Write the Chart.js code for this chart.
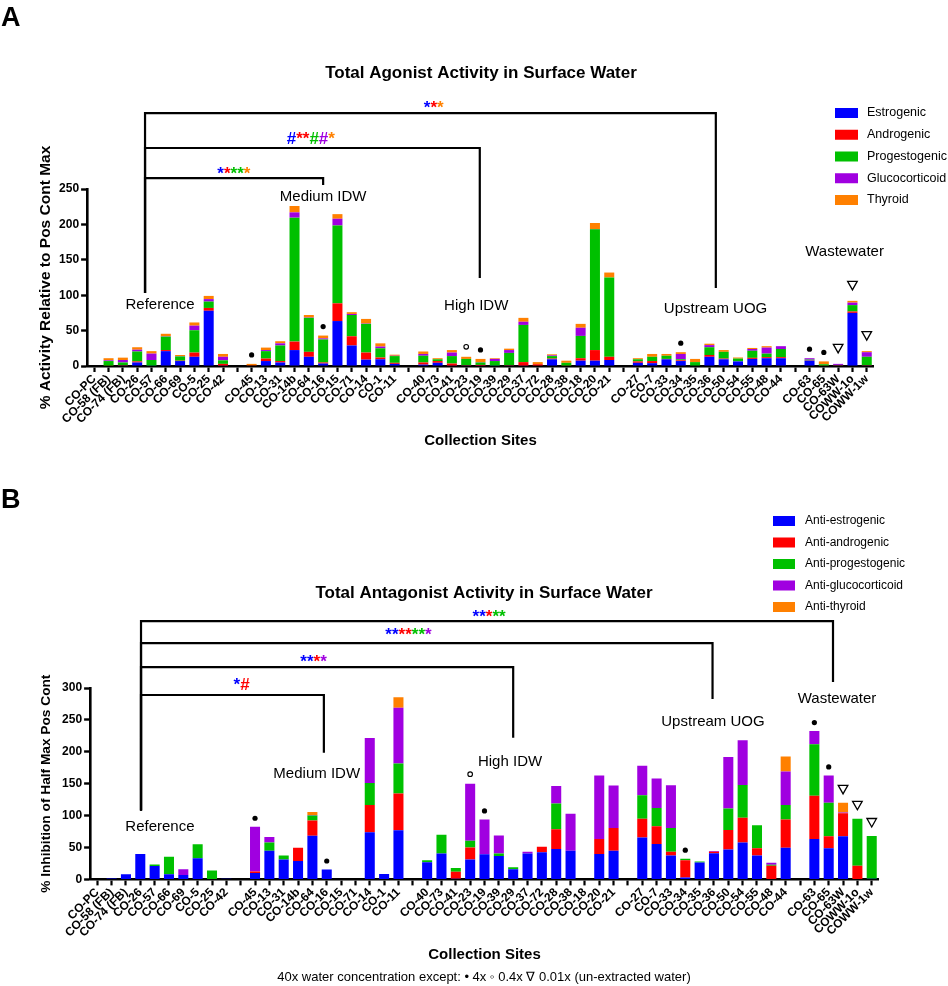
<!DOCTYPE html>
<html>
<head>
<meta charset="utf-8">
<script src="https://cdn.jsdelivr.net/npm/chart.js@4.4.1/dist/chart.umd.min.js"></script>
<style>
html,body{margin:0;padding:0;width:948px;height:986px;overflow:hidden;background:#fff;}
canvas{position:absolute;left:0;}
#chartA{top:0;}
#chartB{top:470px;}
.panel{position:absolute;left:1px;z-index:5;font:bold 27px "Liberation Sans",Arial,sans-serif;color:#000;line-height:1;}
</style>
</head>
<body>
<div class="panel" style="top:4px">A</div>
<div class="panel" style="top:486px">B</div>
<canvas id="chartA" width="962" height="460"></canvas>
<canvas id="chartB" width="968" height="516"></canvas>
<script>
// ---------------- categories (blank entries are the gaps between site groups) ----------------
const sites = ['CO-PC','CO-58 (FB)','CO-74 (FB)','CO-26','CO-57','CO-66','CO-69','CO-5','CO-25','CO-42','',
  'CO-45','CO-13','CO-31','CO-14b','CO-64','CO-16','CO-15','CO-71','CO-14','CO-1','CO-11','',
  'CO-40','CO-73','CO-41','CO-23','CO-19','CO-39','CO-29','CO-37','CO-72','CO-28','CO-38','CO-18','CO-20','CO-21','',
  'CO-27','CO-7','CO-33','CO-34','CO-35','CO-36','CO-50','CO-54','CO-55','CO-48','CO-44','',
  'CO-63','CO-65','CO-63W','COWW-1o','COWW-1w'];

// ---------------- Panel A: agonist activity (% of positive control max) ----------------
const agoEstrogenic = [0,0,0.5,5,0.5,21,7,13,78,0.5,null, 0,7,5,22.5,13,3.5,63.5,29,9,9.5,3,null, 2,4.5,0.5,0.5,0.5,0.5,0.5,0.5,0,9.5,0,7.5,7.5,8.5,null, 4.5,4,9.5,7,0,13,9.5,6.5,10,11,11,null, 7.5,0,0.5,75,0.5];
const agoAndrogenic = [0,0.5,0.5,1.5,0,1.5,0.5,6,4,2.5,null, 1,3.5,2,12,7,1.5,25,13,10,2.5,1.5,null, 3,2.5,3,0.5,1,0,0.5,5,2.5,1,0.5,3.5,15,4.5,null, 2,3,0.5,1,0,2.5,1,0,1.5,1.5,1.5,null, 0.5,0.5,0.5,2,0.5];
const agoProgestogenic = [0,6.5,4,14,8,19,6,31.5,9,5,null, 0,10.5,22,175,48,32.5,110,30,40.5,13,9.5,null, 9.5,2.5,10.5,9,3.5,6.5,17.5,52.5,0,3.5,4,31.5,170.5,112,null, 3,6,4.5,1.5,5.5,11,9.5,4,10,5,11.5,null, 1,2,0.5,9,12];
const agoGlucocorticoid = [0,1,3.5,2.5,9,0.5,0.5,6.5,3.5,5,null, 0,1.5,3,7.5,0.5,1.5,9.5,1.5,0.5,2.5,0.5,null, 2.5,0,5,0,0.5,3,4,4.5,0,1,0,11.5,0.5,0,null, 0,0,0,7.5,0,3,0,0,2.5,8.5,4,null, 2,0,1.5,3.5,6.5];
const agoThyroid = [0,3,3.3,3.5,3.5,3.5,1.5,4.5,4.5,4,null, 2,3.5,3,9,3.5,4,6.5,2.5,6.5,4.5,1.5,null, 3.5,1.5,3.5,3,4.5,1,2,5.5,3,1.5,3,5.5,8.5,7,null, 1.5,4,2.5,2.5,4.5,2,2.5,1.5,1.5,2,0,null, 0,4,0,2.5,1.5];

// ---------------- Panel B: antagonist activity (% inhibition of half max pos cont) ----------------
const antEstrogenic = [0,1.5,8,40,21,8,7,33,0,1,null, 10,45,31,29,68.5,15.5,0,0,74,8.3,77,null, 27,40.5,1,31,39.5,36.5,16,40.5,42.5,47.5,45,0,40,45,null, 65.5,55.5,37.5,3,26.5,41,47,58,37.5,0,49.5,null, 63.5,49,67.5,0,1];
const antAndrogenic = [0,0,0,0,0,0,0,0,0,0,null, 2.5,0,0,20.5,24,0,0,0,42.5,0,57.5,null, 0,0,11,19,0,0,0,0,8.5,31,0,0,23.5,35.5,null, 29.5,28,6,27,0,2.5,30.5,38.5,11.5,21.5,44.5,null, 67.5,18.5,36,21.5,0];
const antProgestogenic = [0,0,0,0,2.5,27.5,0,22,14,0,null, 0,13,6.5,0,7.5,0,0,0,34.5,0,47,null, 3,29.5,6,10.5,0,4,3,0,0,40.5,0,0,0,0,null, 37,28.5,37,2.5,1.5,0,33.5,51.5,36,1.5,22.5,null, 81,52.5,0,73.5,67];
const antGlucocorticoid = [0,0,0,0,0,0,9,0,0,0,null, 70,8.5,0,0,1,0,0,0,70.5,0,87.5,null, 0,0,0,89.5,54.5,28.5,0,3,0,27.5,58,0,99.5,66.5,null, 46,46,67,0,0,1,81,70,0,3,52.5,null, 20.5,43,1.5,0,0];
const antThyroid = [0,0,0,0,0,0,0,0,0,0,null, 0,0,0,0,4.5,0,0,0,0,0,16.5,null, 0,0,0,0,0,0,0,0,0,0,0,0,0,0,null, 0,0,0,0,0,0,0,0,0,0,23.5,null, 0,0,15,0,0];

// ---------------- y tick labels ----------------
const agoTicks = [0,50,100,150,200,250];
const antTicks = [0,50,100,150,200,250,300];

// ---------------- concentration exceptions (symbols above bars) ----------------
const dotSites = ['CO-45','CO-16','CO-19','CO-34','CO-63','CO-65'];      // 4x
const circleSites = ['CO-23'];                                          // 0.4x
const triangleSites = ['CO-63W','COWW-1o','COWW-1w'];                   // 0.01x

const agoLabels = ['Estrogenic','Androgenic','Progestogenic','Glucocorticoid','Thyroid'];
const antLabels = ['Anti-estrogenic','Anti-androgenic','Anti-progestogenic','Anti-glucocorticoid','Anti-thyroid'];
const seriesColors = ['#0000FF','#FF0000','#00C000','#A000E0','#FF8000'];
const C = {b:'#0000FF', r:'#FF0000', g:'#00C000', p:'#A000E0', o:'#FF8000'};

Chart.defaults.font.family = "'Liberation Sans', Arial, Helvetica, sans-serif";
Chart.defaults.color = '#000';

const notesPlugin = {
  id: 'siteNotes',
  afterDraw(chart, args, opts) {
    const ctx = chart.ctx, xs = chart.scales.x, ys = chart.scales.y;
    const ff = Chart.defaults.font.family;
    ctx.save();
    // brackets
    ctx.strokeStyle = '#000'; ctx.lineWidth = 2.2; ctx.lineJoin = 'miter';
    opts.brackets.forEach(b => {
      const xl = xs.getPixelForValue(b.left), xr = xs.getPixelForValue(b.right);
      const yt = ys.getPixelForValue(b.top);
      ctx.beginPath();
      ctx.moveTo(xl, ys.getPixelForValue(b.leftEnd));
      ctx.lineTo(xl, yt); ctx.lineTo(xr, yt);
      ctx.lineTo(xr, ys.getPixelForValue(b.rightEnd));
      ctx.stroke();
    });
    // significance symbols
    ctx.font = 'bold 17px ' + ff; ctx.textBaseline = 'alphabetic'; ctx.textAlign = 'left';
    opts.stars.forEach(s => {
      const parts = s.text.split('').map((ch, i) => [ch, C[s.colors[i]]]);
      const w = parts.reduce((a, p) => a + ctx.measureText(p[0]).width, 0);
      let x = xs.getPixelForValue(s.x) - w / 2;
      const y = ys.getPixelForValue(s.y);
      parts.forEach(p => { ctx.fillStyle = p[1]; ctx.fillText(p[0], x, y); x += ctx.measureText(p[0]).width; });
    });
    // group labels
    ctx.font = '15px ' + ff; ctx.fillStyle = '#000'; ctx.textAlign = 'center'; ctx.textBaseline = 'middle';
    opts.groups.forEach(g => ctx.fillText(g.text, xs.getPixelForValue(g.x), ys.getPixelForValue(g.y)));
    // concentration markers
    const ds = chart.data.datasets;
    chart.data.labels.forEach((lab, i) => {
      let kind = null;
      if (dotSites.includes(lab)) kind = 'dot';
      else if (circleSites.includes(lab)) kind = 'circle';
      else if (triangleSites.includes(lab)) kind = 'tri';
      if (!kind) return;
      const total = ds.reduce((a, d) => a + (d.data[i] || 0), 0);
      const x = xs.getPixelForValue(i);
      const top = ys.getPixelForValue(total);
      ctx.fillStyle = '#000'; ctx.strokeStyle = '#000';
      if (kind === 'dot') { ctx.beginPath(); ctx.arc(x, top - opts.dotOffset, 2.6, 0, Math.PI * 2); ctx.fill(); }
      else if (kind === 'circle') { ctx.lineWidth = 1.1; ctx.beginPath(); ctx.arc(x, top - opts.dotOffset - 1, 2.3, 0, Math.PI * 2); ctx.stroke(); }
      else { const yc = top - opts.triOffset; ctx.lineWidth = 1.3; ctx.beginPath(); ctx.moveTo(x - 4.8, yc - 4); ctx.lineTo(x + 4.8, yc - 4); ctx.lineTo(x, yc + 4.5); ctx.closePath(); ctx.stroke(); }
    });
    // legend
    const L = opts.legend;
    ctx.font = L.size + 'px ' + ff; ctx.textAlign = 'left'; ctx.textBaseline = 'middle';
    ds.forEach((d, i) => {
      const yc = L.y + i * L.dy;
      ctx.fillStyle = d.backgroundColor; ctx.fillRect(L.x, yc - L.h / 2, L.w, L.h);
      ctx.fillStyle = '#000'; ctx.fillText(d.label, L.textX, yc);
    });
    ctx.restore();
  }
};

function buildChart(id, cfg) {
  const datasets = cfg.series.map((data, i) => ({
    label: cfg.labels[i], data, backgroundColor: seriesColors[i], borderWidth: 0,
    barPercentage: 0.7, categoryPercentage: 1.0, yAxisID: 'y'
  }));
  return new Chart(document.getElementById(id), {
    type: 'bar',
    data: { labels: sites, datasets },
    options: {
      responsive: false, animation: false, devicePixelRatio: 1,
      layout: { padding: 0 },
      plugins: {
        legend: { display: false }, tooltip: { enabled: false },
        title: { display: true, text: cfg.title, color: '#000', font: { size: 17, weight: 'bold' },
                 padding: { top: cfg.titlePad[0], bottom: cfg.titlePad[1] } },
        subtitle: cfg.footnote ? { display: true, position: 'bottom', text: cfg.footnote, color: '#000',
                 font: { size: 13, weight: 'normal' }, padding: { top: 0, bottom: 0.4 } } : { display: false },
        siteNotes: cfg.notes
      },
      scales: {
        x: {
          stacked: true, offset: true,
          grid: { display: true, offset: false, drawOnChartArea: false, drawTicks: true, tickLength: 6, tickWidth: 2.2, tickColor: '#000' },
          border: { display: true, color: '#000', width: 2.6 },
          ticks: { autoSkip: false, maxRotation: 45, minRotation: 45, padding: 0, color: '#000', font: { size: 12, weight: 'bold' } },
          title: { display: true, text: 'Collection Sites', color: '#000', font: { size: 15, weight: 'bold' }, padding: { top: 0, bottom: cfg.xTitlePad } },
          afterFit(s) { s.height = cfg.xAxisHeight; }
        },
        y: {
          stacked: true, min: 0, max: cfg.ticks[cfg.ticks.length - 1],
          afterBuildTicks(s) { s.ticks = cfg.ticks.map(v => ({ value: v })); },
          grid: { drawOnChartArea: false, drawTicks: true, tickLength: 6, tickWidth: 2.4, tickColor: '#000' },
          border: { display: true, color: '#000', width: 2.6 },
          ticks: { padding: 2, color: '#000', font: { size: 12, weight: 'bold' } },
          title: { display: true, text: cfg.yTitle, color: '#000', font: { size: cfg.yTitleSize, weight: 'bold' }, padding: { top: cfg.yTitlePad, bottom: 0 } },
          afterFit(s) { s.width = cfg.yAxisWidth; }
        },
        y2: {
          type: 'linear', position: 'right', display: true,
          grid: { display: false }, border: { display: false }, ticks: { display: false },
          afterFit(s) { s.width = cfg.rightWidth; }
        }
      }
    },
    plugins: [notesPlugin]
  });
}

buildChart('chartA', {
  title: 'Total Agonist Activity in Surface Water',
  labels: agoLabels,
  series: [agoEstrogenic, agoAndrogenic, agoProgestogenic, agoGlucocorticoid, agoThyroid],
  ticks: agoTicks,
  titlePad: [62.8, 105.8],
  xAxisHeight: 94, xTitlePad: 10,
  yAxisWidth: 87.1, rightWidth: 88.1,
  yTitle: '% Activity Relative to Pos Cont Max', yTitleSize: 15.5, yTitlePad: 36.7,
  notes: {
    brackets: [
      { left: 3.55, right: 43.45, top: 357.3, leftEnd: 103, rightEnd: 110.2 },
      { left: 3.55, right: 26.95, top: 307.9, leftEnd: 103, rightEnd: 124.3 },
      { left: 3.55, right: 16, top: 265.5, leftEnd: 103, rightEnd: 255.6 }
    ],
    stars: [
      { x: 23.73, y: 357.3, text: '***', colors: 'bro' },
      { x: 15.14, y: 313.6, text: '#**##*', colors: 'brrgpo' },
      { x: 9.76, y: 264, text: '*****', colors: 'brggo' }
    ],
    groups: [
      { text: 'Reference', x: 4.6, y: 86.2 },
      { text: 'Medium IDW', x: 16, y: 238.7 },
      { text: 'High IDW', x: 26.7, y: 84.7 },
      { text: 'Upstream UOG', x: 43.43, y: 80.5 },
      { text: 'Wastewater', x: 52.45, y: 161 }
    ],
    dotOffset: 9, triOffset: 15.5,
    legend: { x: 835, y: 113, dy: 21.75, w: 23, h: 10, textX: 867, size: 12.5 }
  }
});

buildChart('chartB', {
  title: 'Total Antagonist Activity in Surface Water',
  labels: antLabels,
  series: [antEstrogenic, antAndrogenic, antProgestogenic, antGlucocorticoid, antThyroid],
  ticks: antTicks,
  titlePad: [112.8, 84.8],
  xAxisHeight: 90.6, xTitlePad: 6.6,
  yAxisWidth: 90.1, rightWidth: 89.1,
  yTitle: '% Inhibition of Half Max Pos Cont', yTitleSize: 13.7, yTitlePad: 37.8,
  footnote: '40x water concentration except: \u2022 4x \u25E6 0.4x \u2207 0.01x (un-extracted water)',
  notes: {
    brackets: [
      { left: 3.05, right: 51.3, top: 404.7, leftEnd: 107.8, rightEnd: 309.4 },
      { left: 3.05, right: 42.9, top: 370.3, leftEnd: 107.8, rightEnd: 282.8 },
      { left: 3.05, right: 29, top: 332.8, leftEnd: 107.8, rightEnd: 221.9 },
      { left: 3.05, right: 15.8, top: 289, leftEnd: 107.8, rightEnd: 198.4 }
    ],
    stars: [
      { x: 27.32, y: 403, text: '*****', colors: 'bbrgg' },
      { x: 21.7, y: 375, text: '*******', colors: 'bbrrggp' },
      { x: 15.08, y: 332.8, text: '****', colors: 'bbrp' },
      { x: 10.06, y: 296.9, text: '*#', colors: 'br' }
    ],
    groups: [
      { text: 'Reference', x: 4.37, y: 82.8 },
      { text: 'Medium IDW', x: 15.3, y: 165.6 },
      { text: 'High IDW', x: 28.78, y: 184.4 },
      { text: 'Upstream UOG', x: 42.93, y: 246.9 },
      { text: 'Wastewater', x: 51.58, y: 282.8 }
    ],
    dotOffset: 8.5, triOffset: 13.5,
    legend: { x: 773, y: 51, dy: 21.5, w: 22, h: 10, textX: 805, size: 12 }
  }
});
</script>
</body>
</html>
